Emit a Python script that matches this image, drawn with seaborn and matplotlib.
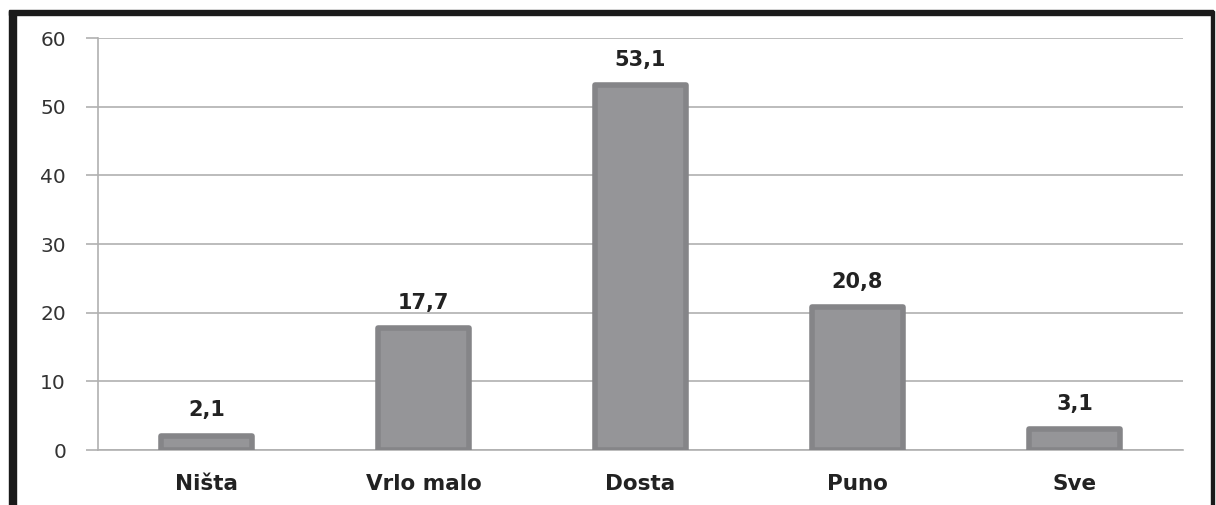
import numpy as np
import pandas as pd
import matplotlib
matplotlib.use("Agg")
import matplotlib.pyplot as plt
import seaborn as sns
from matplotlib.patches import Rectangle

# data
categories = ["Ništa", "Vrlo malo", "Dosta", "Puno", "Sve"]
values = [2.1, 17.7, 53.1, 20.8, 3.1]
labels = ["2,1", "17,7", "53,1", "20,8", "3,1"]
y_ticks = [0, 10, 20, 30, 40, 50, 60]

df = pd.DataFrame({"cat": categories, "val": values})

sns.set_theme(style="white")
plt.rcParams["font.family"] = ["DejaVu Sans"]

fig = plt.figure(figsize=(12.16, 5.05), dpi=100)
ax = fig.add_axes([98/1216, 1 - 450/505, (1183 - 98)/1216, (450 - 38)/505])

sns.barplot(data=df, x="cat", y="val", color="#959598", width=0.42,
            edgecolor="#858588", linewidth=4, saturation=1, ax=ax, zorder=3)
for p in ax.patches:
    p.set_joinstyle("round")

for i, (v, lab) in enumerate(zip(values, labels)):
    ax.text(i, v + 2.2, lab, ha="center", va="bottom", fontsize=15,
            fontweight="bold", color="#222222")

ax.set_xlim(-0.5, len(categories) - 0.5)
ax.set_ylim(0, 60)
ax.set_yticks(y_ticks)
ax.set_yticklabels([str(t) for t in y_ticks], fontsize=14.5, color="#333333")
ax.yaxis.grid(True, color="#b0b0b0", linewidth=1.2, zorder=0)
ax.set_axisbelow(True)

ax.set_xticks(range(len(categories)))
ax.set_xticklabels(categories, fontsize=15.5, fontweight="bold", color="#222222")
ax.tick_params(axis="x", which="major", length=0, pad=17)
ax.set_xticks(np.arange(-0.5, len(categories), 1), minor=True)
ax.tick_params(axis="x", which="minor", length=8, width=1.2, color="#b0b0b0")
ax.tick_params(axis="y", length=9, width=1.2, color="#b0b0b0", pad=14, left=True)

for s in ["top", "right"]:
    ax.spines[s].set_visible(False)
for s in ["left", "bottom"]:
    ax.spines[s].set_color("#b0b0b0")
    ax.spines[s].set_linewidth(1.2)
ax.set_xlabel("")
ax.set_ylabel("")

# black frame around the chart
fig.patches.append(Rectangle((9/1216, 1 - 15/505), (1213 - 9)/1216, 5/505,
                             transform=fig.transFigure, color="#1a1a1a"))
fig.patches.append(Rectangle((9/1216, 0), 7/1216, 1 - 11/505,
                             transform=fig.transFigure, color="#1a1a1a"))
fig.patches.append(Rectangle((1211/1216, 0), 3/1216, 1 - 11/505,
                             transform=fig.transFigure, color="#1a1a1a"))

fig.savefig("out.png", dpi=100, facecolor="white")
